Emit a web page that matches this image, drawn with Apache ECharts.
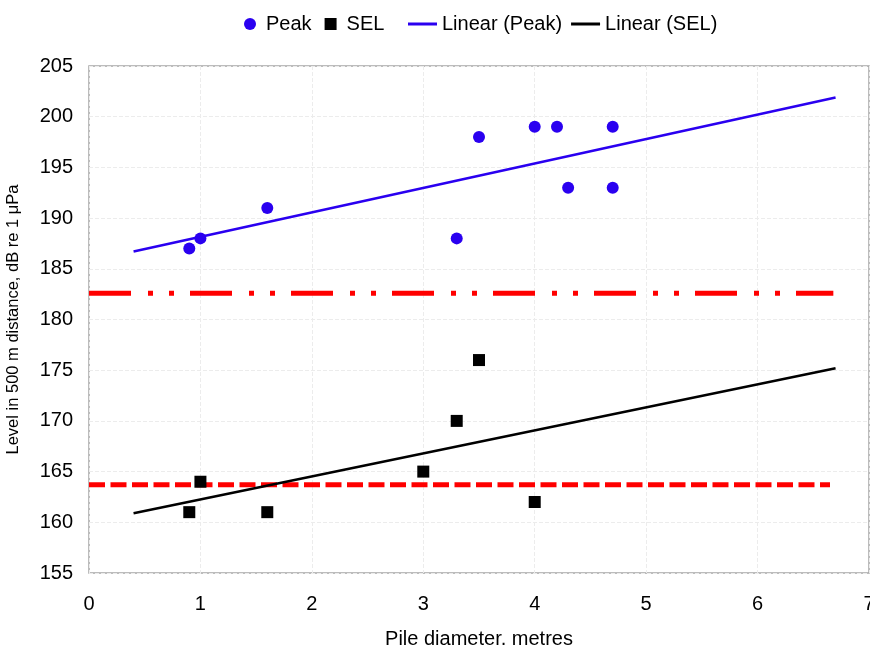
<!DOCTYPE html>
<html>
<head>
<meta charset="utf-8">
<script src="https://cdn.jsdelivr.net/npm/echarts@6/dist/echarts.min.js"></script>
<style>
  html, body { margin: 0; padding: 0; background: #fff; }
  #chart { width: 870px; height: 645px; }
</style>
</head>
<body>
<div id="chart"></div>
<script>
// measured points
var peakX = [0.9, 1, 1.6, 3.3, 3.5, 4, 4.2, 4.3, 4.7, 4.7];
var peakY = [187, 188, 191, 188, 198, 199, 199, 193, 199, 193];
var selX = [0.9, 1, 1.6, 3, 3.3, 3.5, 4];
var selY = [161, 164, 161, 165, 170, 176, 162];
// trend lines (ends)
var trendX = [0.4, 6.7];
var peakTrend = [186.7, 201.9];
var selTrend = [160.9, 175.2];
// red threshold lines
var peakLimit = 182.6;
var selLimit = 163.7;
var dashDotX = [0, 6.68];
var dashX = [0, 6.65];

function pairs(xs, ys) {
  return xs.map(function (x, i) { return [x, ys[i]]; });
}

var font = 'Liberation Sans, Arial, sans-serif';
var blue = '#2a00f0';
var chart = echarts.init(document.getElementById('chart'));
chart.setOption({
  animation: false,
  textStyle: { fontFamily: font },
  legend: [{
    left: 239, top: 9,
    itemWidth: 22, itemHeight: 12, itemGap: 13, symbolKeepAspect: true,
    textStyle: { fontSize: 20, color: '#000', fontFamily: font },
    data: [
      { name: 'Peak', icon: 'circle' },
      { name: 'SEL', icon: 'path://M0,0L10,0L10,10L0,10Z' }
    ]
  }, {
    left: 403, top: 9,
    itemWidth: 29, itemHeight: 3, itemGap: 9,
    textStyle: { fontSize: 20, color: '#000', fontFamily: font },
    data: [{ name: 'Linear (Peak)', icon: 'rect' }, { name: 'Linear (SEL)', icon: 'rect' }]
  }],
  grid: {
    left: 89, right: 1, top: 66, bottom: 72,
    containLabel: false, outerBoundsMode: 'none',
    show: true, borderColor: '#a6a6a6', borderWidth: 1.5
  },
  xAxis: {
    type: 'value', min: 0, max: 7, interval: 1,
    name: 'Pile diameter, metres', nameLocation: 'middle', nameGap: 56,
    nameTextStyle: { fontSize: 20, color: '#000', fontFamily: font },
    axisLine: { show: false },
    axisTick: { show: false },
    axisLabel: { fontSize: 20, color: '#000', margin: 21, fontFamily: font },
    splitLine: { show: true, lineStyle: { color: '#ececec', type: 'dashed', width: 1 } }
  },
  yAxis: {
    type: 'value', min: 155, max: 205, interval: 5,
    name: 'Level in 500 m distance, dB re 1 μPa', nameLocation: 'middle', nameGap: 67,
    nameTextStyle: { fontSize: 16.5, color: '#000', fontFamily: font },
    axisLine: { show: false },
    axisTick: { show: false },
    axisLabel: { fontSize: 20, color: '#000', margin: 16, fontFamily: font },
    splitLine: { show: true, lineStyle: { color: '#ececec', type: 'dashed', width: 1 } }
  },
  series: [{
    name: 'Peak', type: 'scatter', symbol: 'circle', symbolSize: 12,
    itemStyle: { color: blue, opacity: 1 },
    data: pairs(peakX, peakY), z: 5
  }, {
    name: 'SEL', type: 'scatter', symbol: 'rect', symbolSize: 12,
    itemStyle: { color: '#000', opacity: 1 },
    data: pairs(selX, selY), z: 5
  }, {
    name: 'Linear (Peak)', type: 'line', showSymbol: false, symbol: 'none',
    itemStyle: { color: blue },
    lineStyle: { color: blue, width: 2.5 },
    data: pairs(trendX, peakTrend), z: 4
  }, {
    name: 'Linear (SEL)', type: 'line', showSymbol: false, symbol: 'none',
    itemStyle: { color: '#000' },
    lineStyle: { color: '#000', width: 2.5 },
    data: pairs(trendX, selTrend), z: 4
  }, {
    name: 'peakLimit', type: 'line', showSymbol: false, symbol: 'none', silent: true,
    lineStyle: { color: '#ff0000', width: 5, type: [42, 17, 5, 16, 5, 16], cap: 'butt' },
    data: [[dashDotX[0], peakLimit], [dashDotX[1], peakLimit]], z: 3
  }, {
    name: 'selLimit', type: 'line', showSymbol: false, symbol: 'none', silent: true,
    lineStyle: { color: '#ff0000', width: 5, type: [16, 5.5], cap: 'butt' },
    data: [[dashX[0], selLimit], [dashX[1], selLimit]], z: 3
  }]
});
</script>
</body>
</html>
